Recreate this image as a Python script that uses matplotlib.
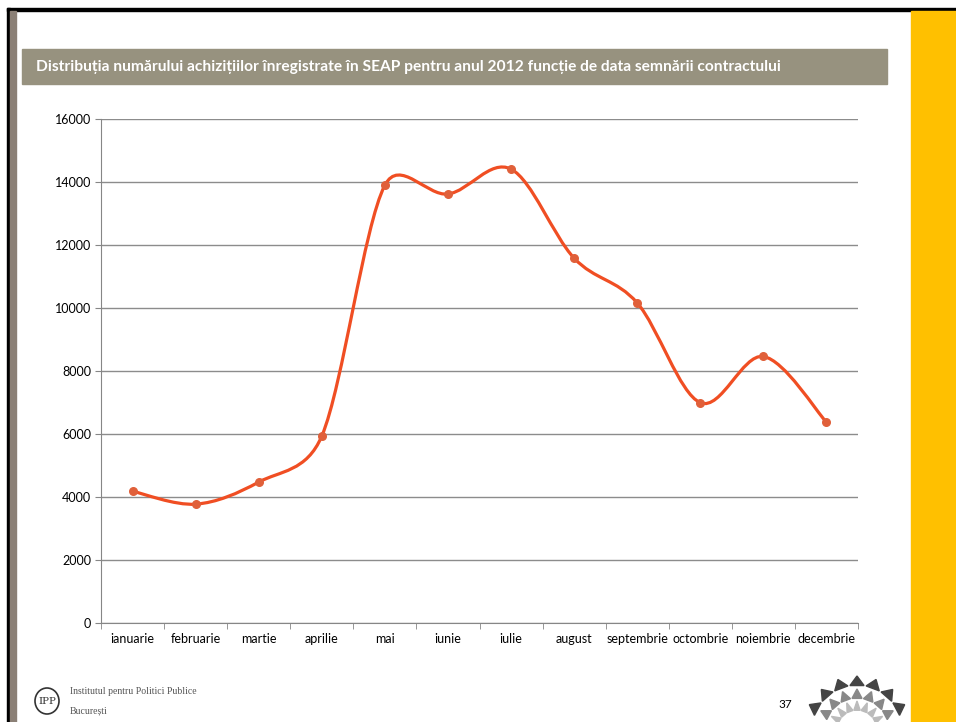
import matplotlib.pyplot as plt
import numpy as np
from matplotlib.path import Path
from matplotlib.patches import PathPatch, Rectangle, Polygon, Ellipse

# date: numarul achizitiilor pe luni (2012)
luni = ['ianuarie', 'februarie', 'martie', 'aprilie', 'mai', 'iunie',
        'iulie', 'august', 'septembrie', 'octombrie', 'noiembrie', 'decembrie']
valori = [4190, 3780, 4480, 5940, 13900, 13620,
          14410, 11585, 10165, 7000, 8465, 6380]
y_ticks = [0, 2000, 4000, 6000, 8000, 10000, 12000, 14000, 16000]

titlu = 'Distribuția numărului achizițiilor înregistrate în SEAP pentru anul 2012 funcție de data semnării contractului'

W, H = 956, 722
fig = plt.figure(figsize=(W / 100, H / 100), dpi=100)
fig.patch.set_facecolor('white')


def fr(x0, y0, w, h, c):
    # dreptunghi in pixeli (y de sus in jos)
    fig.patches.append(Rectangle((x0 / W, 1 - (y0 + h) / H), w / W, h / H,
                                 transform=fig.transFigure, color=c, zorder=0))


# chenarul slide-ului
fr(7, 8, W - 7, 3, 'black')
fr(7, 8, 3, H - 8, 'black')
fr(10, 11, 6, H - 11, '#8b8076')
fr(911, 11, 45, H - 11, '#ffc000')
# banda titlului
fr(22, 49, 865, 35, '#97927f')
fig.text(36 / W, 1 - 67 / H, titlu, color='white', fontsize=11.2,
         fontweight='bold', family='Lato', va='center', ha='left')

ax = fig.add_axes([101 / W, 1 - 623.3 / H, 757 / W, 504.3 / H])
x = np.arange(len(luni))
ax.set_xlim(-0.5, len(luni) - 0.5)
ax.set_ylim(0, 16000)

# curba netezita ca in Excel (Bezier, calculat in pixeli)
pts = ax.transData.transform(np.column_stack([x, valori]).astype(float))
n = len(pts)
verts = [pts[0]]
codes = [Path.MOVETO]
for i in range(n - 1):
    p0 = pts[max(i - 1, 0)]
    p1 = pts[i]
    p2 = pts[i + 1]
    p3 = pts[min(i + 2, n - 1)]
    seg = np.hypot(*(p2 - p1))
    t1 = (p2 - p0) / 6
    t2 = (p3 - p1) / 6
    # limiteaza lungimea tangentelor la jumatate din segment
    for t in (t1, t2):
        L = np.hypot(*t)
        if L > seg / 2:
            t *= (seg / 2) / L
    verts += [p1 + t1, p2 - t2, p2]
    codes += [Path.CURVE4] * 3
verts = ax.transData.inverted().transform(np.array(verts))
ax.add_patch(PathPatch(Path(verts, codes), facecolor='none',
                       edgecolor='#f04e23', lw=2.3, zorder=3))
ax.scatter(x, valori, s=30, color='#e0603a', zorder=4)

ax.set_yticks(y_ticks)
ax.set_yticklabels([str(v) for v in y_ticks], family='Lato', fontsize=9)
ax.set_xticks(x)
ax.set_xticklabels(luni, family='Lato', fontsize=9)
ax.set_xticks(np.arange(len(luni) + 1) - 0.5, minor=True)
ax.tick_params(axis='x', which='major', length=0, pad=7)
ax.tick_params(axis='x', which='minor', length=4, color='#868686')
ax.tick_params(axis='y', length=4, color='#868686', pad=3)
ax.grid(axis='y', color='#8c8c8c', lw=1)
ax.set_axisbelow(True)
for s in ['top', 'right']:
    ax.spines[s].set_visible(False)
for s in ['left', 'bottom']:
    ax.spines[s].set_color('#868686')

# subsol
fig.patches.append(Ellipse((47 / W, 1 - 701 / H), 24 / W, 26 / H,
                           transform=fig.transFigure, fill=False,
                           ec='#333333', lw=1.2))
fig.text(47 / W, 1 - 701 / H, 'IPP', fontsize=7.5, family='DejaVu Serif',
         ha='center', va='center', color='#333333')
fig.text(70 / W, 1 - 692 / H, 'Institutul pentru Politici Publice', fontsize=7,
         color='#555555', va='center', family='Liberation Serif')
fig.text(70 / W, 1 - 711 / H, 'București', fontsize=7, color='#555555',
         va='center', family='Liberation Serif')
fig.text(778 / W, 1 - 705 / H, '37', fontsize=8.5, family='Lato', va='center')

# sigla decorativa (arce de dinti)
cx, cy = 857, 730
for r, c in [(54, '#444444'), (41, '#888888'), (29, '#bbbbbb')]:
    for a in np.linspace(28, 152, 7):
        t = np.radians(a)
        dt = np.radians(9)
        p = [(cx + (r - 9) * np.cos(t - dt), cy - (r - 9) * np.sin(t - dt)),
             (cx + r * np.cos(t), cy - r * np.sin(t)),
             (cx + (r - 9) * np.cos(t + dt), cy - (r - 9) * np.sin(t + dt))]
        fig.patches.append(Polygon([(px / W, 1 - py / H) for px, py in p],
                                   transform=fig.transFigure, color=c))

fig.savefig('out.png', dpi=100)
